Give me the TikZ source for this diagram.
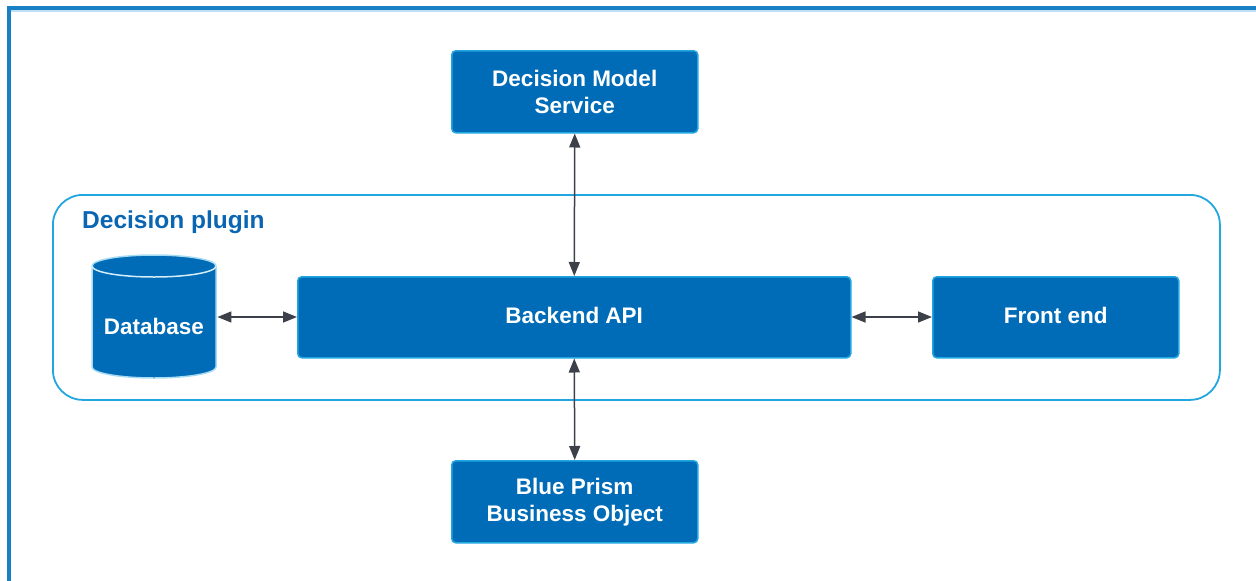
\documentclass[tikz,border=0pt]{standalone}
\usepackage{fontspec}
\setmainfont{Liberation Sans}
\usetikzlibrary{arrows.meta}
\definecolor{boxblue}{HTML}{006CB7}
\definecolor{edgeblue}{HTML}{22A6E0}
\definecolor{frameblue}{HTML}{1A80C6}
\definecolor{lightframe}{HTML}{BFE0F4}
\definecolor{titleblue}{HTML}{0A66B2}
\definecolor{arrowgray}{HTML}{3C4048}
\tikzset{
  x=1pt, y=-1pt,
  svcbox/.style={draw=edgeblue, line width=1.5pt, fill=boxblue, rounded corners=4pt,
    text=white, font=\fontsize{22.5}{27}\selectfont\bfseries, align=center,
    inner sep=0pt, anchor=north west},
  conn/.style={draw=arrowgray, line width=1.5pt,
    {Triangle[length=14pt,width=11pt]}-{Triangle[length=14pt,width=11pt]}},
}
\begin{document}
\begin{tikzpicture}
\useasboundingbox (0,0) rectangle (1256,581);
% outer frame
\draw[lightframe, line width=1.5pt] (11,10.8) -- (1260,10.8);
\draw[frameblue, line width=4pt] (9,590) -- (9,8) -- (1260,8);
% container
\node[draw=edgeblue, line width=1.8pt, rounded corners=30pt, minimum width=1167pt,
  minimum height=205pt, anchor=north west, inner sep=0pt] (plugin) at (52,194) {};
\node[anchor=base west, text=titleblue, font=\fontsize{24.5}{28}\selectfont\bfseries, inner sep=0pt]
  (pluginlabel) at (82,228) {Decision plugin};
% boxes
\node[svcbox, minimum width=246pt, minimum height=82pt] (dms) at (451,50) {Decision Model\\Service};
\node[svcbox, minimum width=553pt, minimum height=81pt] (api) at (297,276) {\raisebox{3pt}{Backend API}};
\node[svcbox, minimum width=246pt, minimum height=81pt] (fe) at (932,276) {\raisebox{3pt}{Front end}};
\node[svcbox, minimum width=246pt, minimum height=82pt] (bp) at (451,460) {Blue Prism\\Business Object};
% database cylinder
\node[minimum width=124pt, minimum height=123pt, inner sep=0pt, anchor=north west] (db) at (92,255) {};
\fill[boxblue, draw=edgeblue!40, line width=1.5pt]
  (92,266) -- (92,367) arc[start angle=180, end angle=0, x radius=62, y radius=11]
  -- (216,266) arc[start angle=0, end angle=-180, x radius=62, y radius=11] -- cycle;
\draw[white!80!edgeblue, line width=1.5pt] (92,266) arc[start angle=180, end angle=0, x radius=62, y radius=11];
\node[text=white, font=\fontsize{22.5}{27}\selectfont\bfseries, inner sep=0pt] (dblabel) at (154,326) {Database};
% connectors
\draw[conn] (dms.south) -- (api.north);
\draw[conn] (api.south) -- (bp.north);
\draw[conn] ([xshift=1pt]db.east |- 0,317) -- (api.west |- 0,317);
\draw[conn] (api.east |- 0,317) -- (fe.west |- 0,317);
\end{tikzpicture}
\end{document}
